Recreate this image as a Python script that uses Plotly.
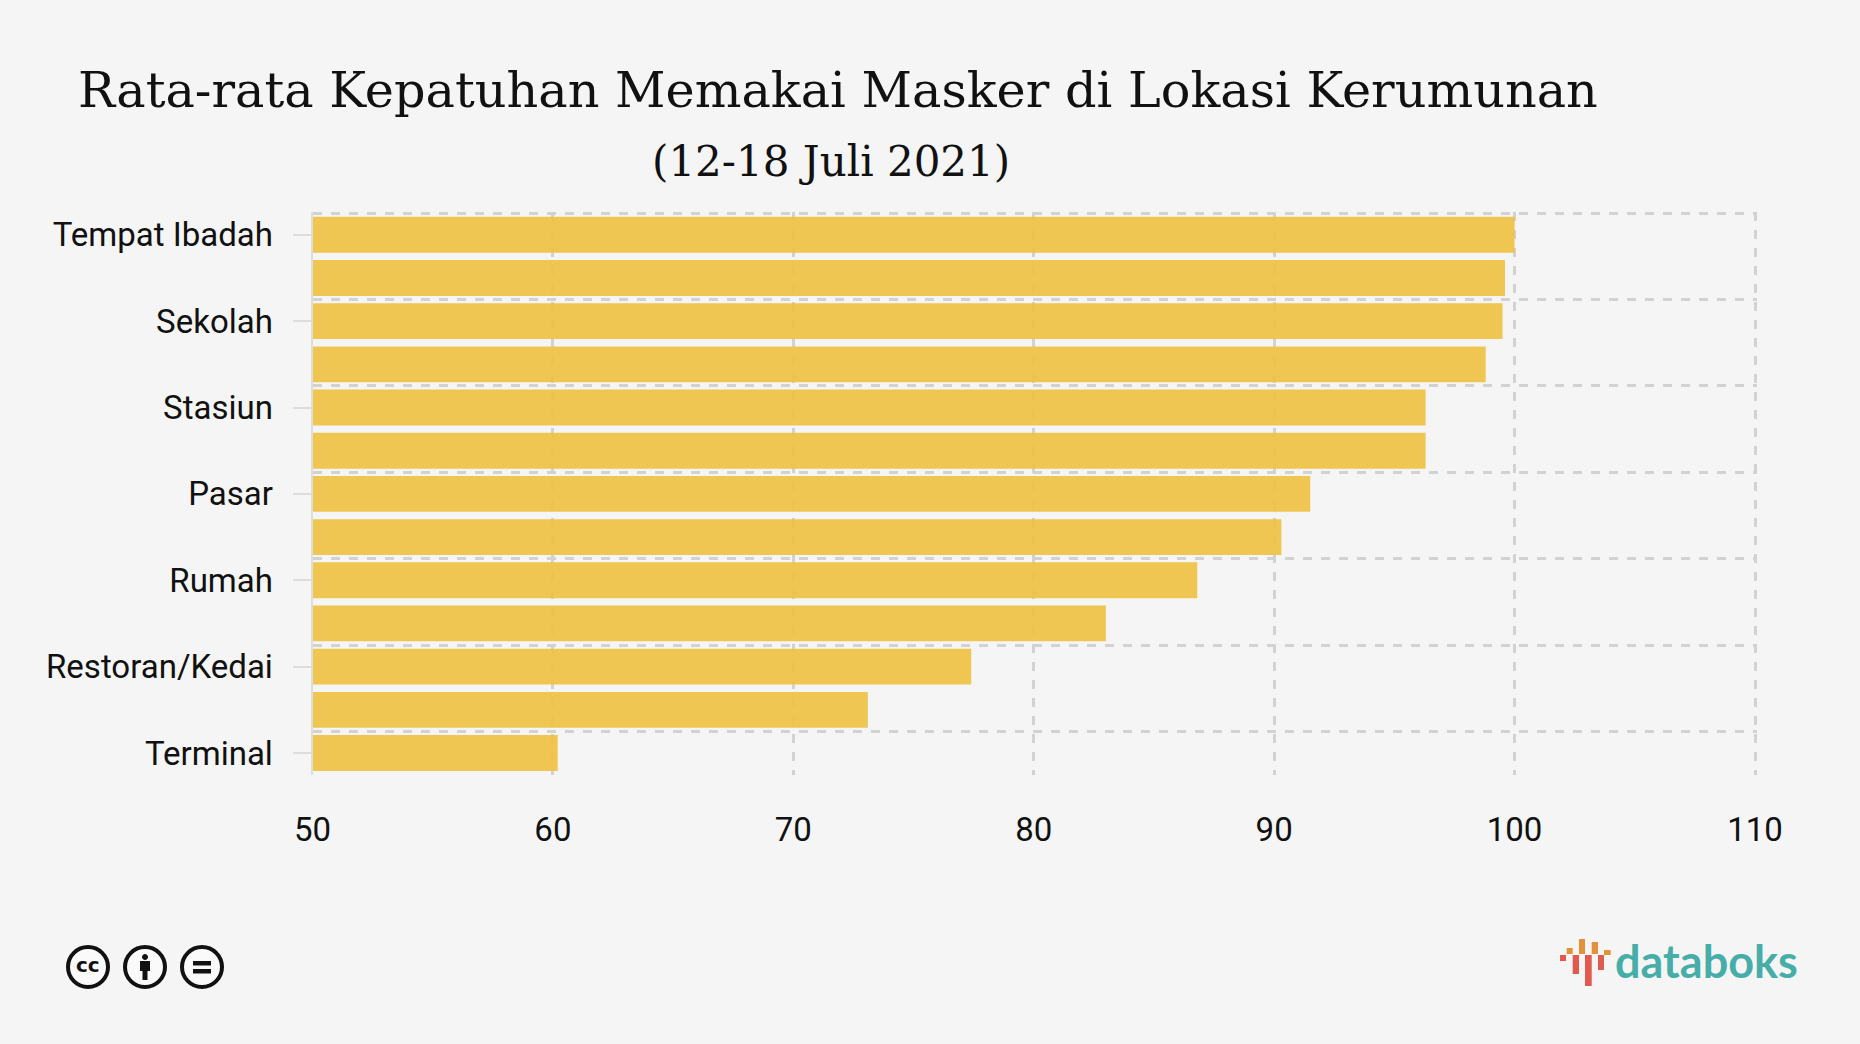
import plotly.graph_objects as go

W, H = 1860, 1044

# every other category is unlabelled in the picture
labels = ['Tempat Ibadah', '', 'Sekolah', '', 'Stasiun', '', 'Pasar', '',
          'Rumah', '', 'Restoran/Kedai', '', 'Terminal']
values = [100, 99.6, 99.5, 98.8, 96.3, 96.3, 91.5, 90.3, 86.8, 83.0, 77.4, 73.1, 60.2]
x_ticks = [50, 60, 70, 80, 90, 100, 110]
title_1 = 'Rata-rata Kepatuhan Memakai Masker di Lokasi Kerumunan'
title_2 = '(12-18 Juli 2021)'

BG = '#F5F5F5'
GRID = '#D2D2D2'
TICK_FONT = dict(family='Roboto', size=33, color='#111111')


def px(x):
    return x / W


def py(y):
    return 1 - y / H


def rect(x0, y0, x1, y1, color):
    return dict(type='rect', xref='paper', yref='paper', x0=px(x0), x1=px(x1),
                y0=py(y0), y1=py(y1), fillcolor=color, line_width=0, layer='above')


def circle(cx, cy, r, fill, line_w=4):
    return dict(type='circle', xref='paper', yref='paper', x0=px(cx - r), x1=px(cx + r),
                y0=py(cy + r), y1=py(cy - r), fillcolor=fill,
                line=dict(color='#111111', width=line_w), layer='above')


idx = list(range(len(values)))

fig = go.Figure(go.Bar(
    x=values,
    y=idx,
    base=0,
    orientation='h',
    marker=dict(color='#EEC13F', opacity=0.9, line_width=0),
    width=0.83,
))

shapes = [
    # CC badges
    circle(88, 967, 20, '#FAFAFA'),
    circle(145, 967, 20, '#FAFAFA'),
    circle(202, 967, 20, '#FAFAFA'),
    # person
    circle(145, 957, 2.5, '#111111', 1),
    rect(140, 961, 150, 971, '#111111'),
    rect(142.5, 971, 147.5, 980, '#111111'),
    # equals
    rect(193, 961, 211, 965.5, '#111111'),
    rect(193, 969, 211, 973.5, '#111111'),
    # databoks mark
    rect(1560, 955, 1566, 961, '#E05A4E'),
    rect(1566.7, 948, 1572.7, 954, '#E4923A'),
    rect(1572.7, 955, 1579, 974, '#E05A4E'),
    rect(1579, 939, 1585, 954, '#E4923A'),
    rect(1585, 955, 1591.7, 986, '#E05A4E'),
    rect(1591.7, 942, 1598, 954, '#E4923A'),
    rect(1598, 955, 1604, 970, '#E05A4E'),
    rect(1604, 950, 1610.7, 955, '#E4923A'),
]

annotations = [
    dict(text=title_1, x=px(838), y=py(90), xref='paper', yref='paper', showarrow=False,
         xanchor='center', yanchor='middle', font=dict(family='DejaVu Serif', size=49.3, color='#111111')),
    dict(text=title_2, x=px(831), y=py(162), xref='paper', yref='paper', showarrow=False,
         xanchor='center', yanchor='middle', font=dict(family='DejaVu Serif', size=42, color='#111111')),
    dict(text='<b>cc</b>', x=px(88), y=py(965), xref='paper', yref='paper', showarrow=False,
         xanchor='center', yanchor='middle', font=dict(family='DejaVu Sans', size=20, color='#111111')),
    dict(text='<b>databoks</b>', x=px(1613), y=py(961), xref='paper', yref='paper', showarrow=False,
         xanchor='left', yanchor='middle', font=dict(family='Lato', size=45, color='#47ADA8')),
]

fig.update_layout(
    width=W,
    height=H,
    template='none',
    paper_bgcolor=BG,
    plot_bgcolor=BG,
    margin=dict(l=0, r=0, t=0, b=0),
    showlegend=False,
    shapes=shapes,
    annotations=annotations,
    xaxis=dict(
        # range runs a hair past 110 so plotly keeps the end gridline
        domain=[px(312.5), px(1756.5)],
        range=[50, 110.0625],
        tickvals=x_ticks,
        ticks='',
        tickfont=TICK_FONT,
        ticklabelstandoff=32,
        showgrid=True,
        gridcolor=GRID,
        gridwidth=2.5,
        griddash='9px,9px',
        zeroline=False,
        showline=False,
    ),
    yaxis=dict(
        domain=[py(774.6), py(211.9)],
        range=[12.5, -0.53],
        tickmode='array',
        tickvals=idx[::2],
        ticktext=labels[::2],
        ticks='outside',
        ticklen=18,
        tickwidth=2,
        tickcolor='#DDDDDD',
        tickfont=TICK_FONT,
        ticklabelstandoff=13,
        showgrid=False,
        zeroline=False,
        showline=True,
        linecolor='#DDDDDD',
        linewidth=2,
        minor=dict(
            tickmode='array',
            tickvals=[i - 0.5 for i in idx[::2]],
            ticks='',
            showgrid=True,
            gridcolor=GRID,
            gridwidth=2.5,
            griddash='9px,9px',
        ),
    ),
)

fig.write_html("out.html", config=dict(displayModeBar=False),
               post_script="document.body.style.margin='0';document.body.style.background='#F5F5F5';")
